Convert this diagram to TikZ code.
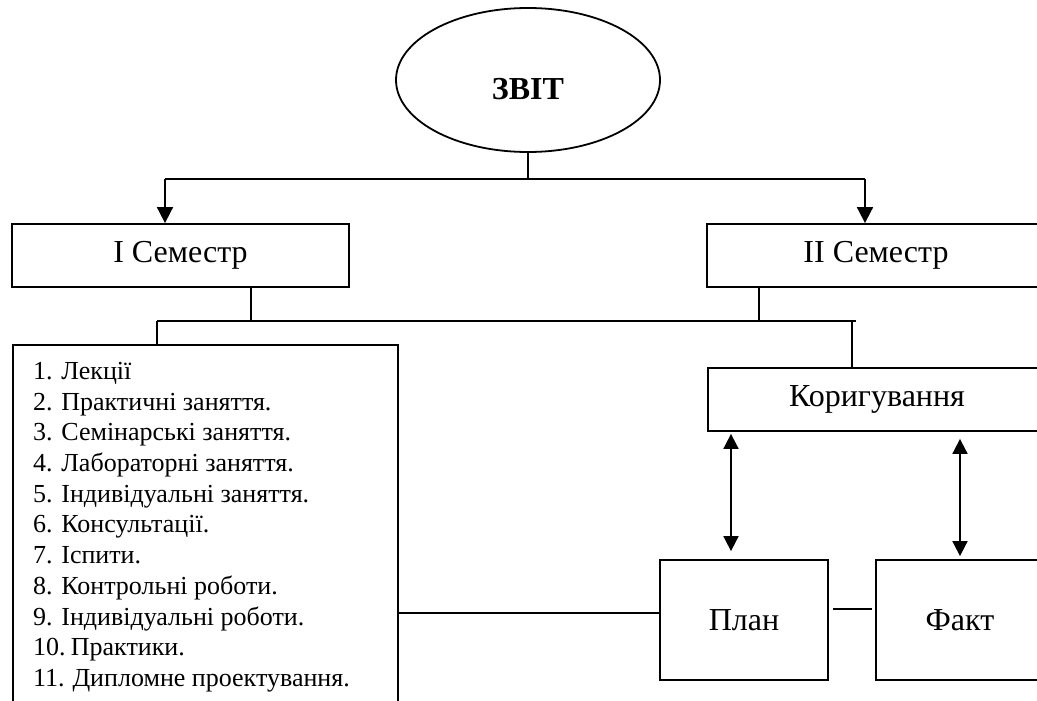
\documentclass[tikz,border=0pt]{standalone}
\usepackage{fontspec}
\setmainfont{Liberation Serif}
\usetikzlibrary{shapes.geometric,arrows.meta}
\tikzset{
  ln/.style={line width=1.8pt},
  box/.style={draw, line width=1.8pt, rectangle, inner sep=0pt, font=\fontsize{32}{36}\selectfont},
  tip/.style={-{Triangle[width=16pt,length=16pt]}},
  dtip/.style={{Triangle[width=15pt,length=15pt]}-{Triangle[width=15pt,length=15pt]}},
}
\begin{document}
\begin{tikzpicture}[x=1pt,y=-1pt]
\useasboundingbox (0,0) rectangle (1037,701);
\clip (0,0) rectangle (1037,701);
% nodes
\node[draw, ln, ellipse, minimum width=264pt, minimum height=144pt, inner sep=0pt,
      font=\fontsize{32}{36}\selectfont\bfseries] (zvit) at (528,80) {\rule{0pt}{39pt}ЗВІТ};
\node[box, minimum width=337pt, minimum height=63pt] (sem1) at (180.5,255.5) {I Семестр};
\node[box, minimum width=338pt, minimum height=63pt] (sem2) at (876,255.5) {II Семестр};
\node[box, minimum width=385pt, minimum height=380pt, anchor=north west] (list) at (12,344) {};
\node[anchor=north west, inner sep=0pt, align=left, font=\fontsize{26}{30.7}\selectfont] (items) at (33,362)
  {1. Лекції\\
   2. Практичні заняття.\\
   3. Семінарські заняття.\\
   4. Лабораторні заняття.\\
   5. Індивідуальні заняття.\\
   6. Консультації.\\
   7. Іспити.\\
   8. Контрольні роботи.\\
   9. Індивідуальні роботи.\\
   10.\hspace{0.2em}Практики.\\
   11.\hspace{0.3em}Дипломне проектування.};
\node[box, minimum width=338pt, minimum height=63pt] (korr) at (877,399.5) {Коригування};
\node[box, minimum width=168pt, minimum height=120pt] (plan) at (744,620) {План};
\node[box, minimum width=168pt, minimum height=120pt] (fakt) at (960,620) {Факт};
% junction coordinates
\coordinate (h1l) at (165,179);
\coordinate (h1r) at (865,179);
\coordinate (h2l) at (157,321);
\coordinate (h2r) at (856,321);
\coordinate (h2k) at (852,321);
\coordinate (s1b) at (251,287);
\coordinate (s2b) at (759,287);
% connectors
\draw[ln] (zvit.south) -- (zvit.south |- h1l);
\draw[ln] (h1l) -- (h1r);
\draw[ln, tip] (h1l) -- (h1l |- sem1.north);
\draw[ln, tip] (h1r) -- (h1r |- sem2.north);
\draw[ln] (s1b) -- (s1b |- h2l);
\draw[ln] (s2b) -- (s2b |- h2l);
\draw[ln] (h2l) -- (h2r);
\draw[ln] (h2l) -- (h2l |- list.north);
\draw[ln] (h2k) -- (h2k |- korr.north);
\coordinate (d1) at (731,0);
\coordinate (d2) at (960,0);
\draw[ln, dtip, shorten <=2pt, shorten >=8pt] (d1 |- korr.south) -- (d1 |- plan.north);
\draw[ln, dtip, shorten <=7pt, shorten >=3pt] (d2 |- korr.south) -- (d2 |- fakt.north);
\coordinate (lp) at (0,613);
\draw[ln] (lp -| list.east) -- (lp -| plan.west);
\coordinate (pf) at (0,609);
\draw[ln, shorten <=4pt, shorten >=3pt] (pf -| plan.east) -- (pf -| fakt.west);
\end{tikzpicture}
\end{document}
